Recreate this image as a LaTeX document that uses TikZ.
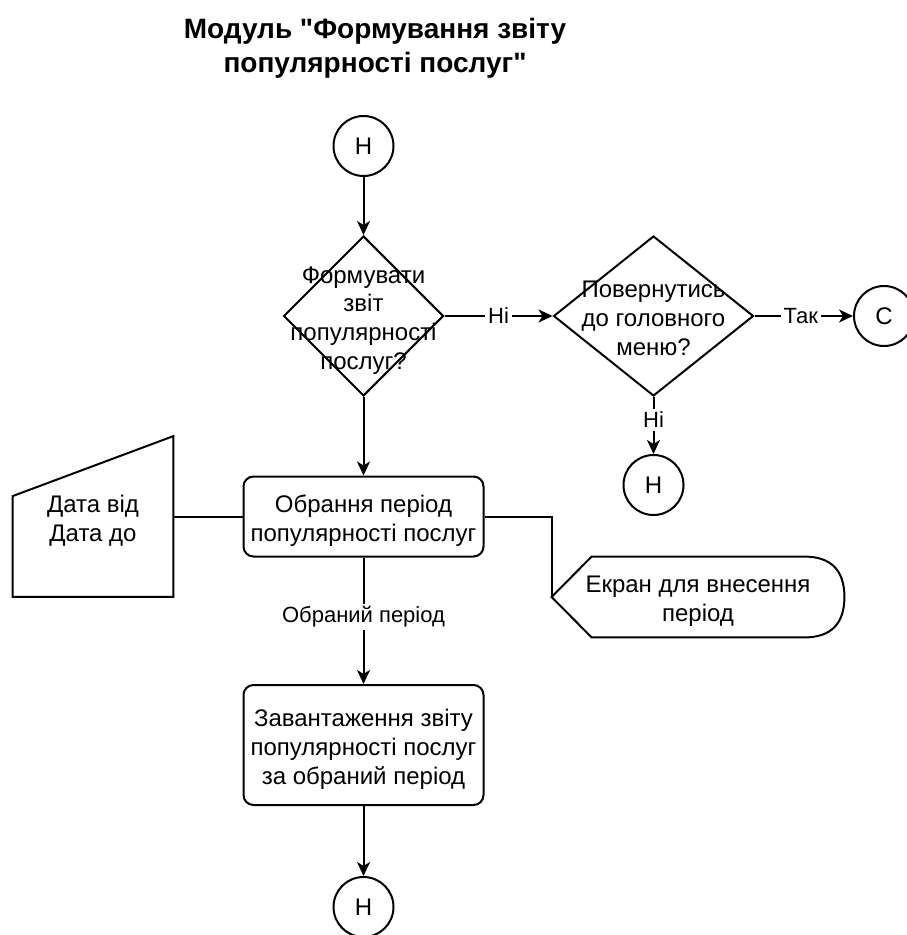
\documentclass[tikz,border=0pt]{standalone}
\usepackage{fontspec}
% a family without TeX ligatures keeps the straight double quote
\newfontfamily\flowfont{Liberation Sans}
\usetikzlibrary{shapes.geometric,arrows.meta,calc}

\begin{document}
\begin{tikzpicture}[x=0.5pt,y=-0.5pt,
  every node/.style={font=\flowfont\fontsize{12pt}{14.4pt}\selectfont, align=center, inner sep=0pt},
  every label/.style={yshift=-2.2pt},
  line/.style={line width=1pt, draw=black},
  flow/.style={line, -{Stealth[length=7pt,width=6.5pt,inset=2pt]}},
  term/.style={circle, draw, line width=1pt, minimum size=30pt},
  proc/.style={rectangle, rounded corners=5pt, draw, line width=1pt, minimum width=120pt},
  decision/.style={diamond, draw, line width=1pt, inner sep=0pt},
  ghost/.style={rectangle, draw=none, inner sep=0pt},
  elabel/.style={font=\flowfont\fontsize{11pt}{13.2pt}\selectfont, fill=white, inner sep=1.5pt},
  titlefont/.style={font=\flowfont\fontsize{14pt}{16.8pt}\selectfont\bfseries},
]
\useasboundingbox (0,0) rectangle (906,935);

% heading
\node[titlefont] (title) at (375,48) {Модуль "Формування звіту\\популярності послуг"};

% start and decisions
\node[term] (h1) at (363.5,146) {Н};
\node[decision, minimum width=80pt, minimum height=80pt,
      label={center:Формувати\\звіт\\популярності\\послуг?}] (d1) at (363.5,316) {};
\node[decision, minimum width=100pt, minimum height=80pt,
      label={[yshift=1pt]center:Повернутись\\до головного\\меню?}] (d2) at (653.5,316) {};
\node[term] (c1) at (884,316) {С};
\node[term] (h2) at (653.5,485) {Н};

% period selection
\node[proc, minimum height=40pt,
      label={center:Обрання період\\популярності послуг}] (box1) at (363.5,516.5) {};
\node[ghost, minimum width=80pt, minimum height=80pt,
      label={center:Дата від\\Дата до}] (inp) at (93,516.5) {};
\node[ghost, minimum width=146pt, minimum height=40pt,
      label={center:Екран для внесення\\період}] (disp) at (698,597) {};

% manual input outline
\draw[line] (inp.south west) -- ([yshift=-30pt]inp.north west) -- (inp.north east)
  -- (inp.south east) -- cycle;
% display outline, rounded right end
\draw[line] (disp.west) -- ([xshift=20pt]disp.north west) -- ([xshift=-20pt]disp.north east)
  .. controls ([xshift=-6.667pt]disp.north east) and ([yshift=13.333pt]disp.east) .. (disp.east)
  .. controls ([yshift=-13.333pt]disp.east) and ([xshift=-6.667pt]disp.south east) .. ([xshift=-20pt]disp.south east)
  -- ([xshift=20pt]disp.south west) -- cycle;

% report loading and end
\node[proc, minimum height=60pt,
      label={center:Завантаження звіту\\популярності послуг\\за обраний період}] (box2) at (363.5,745) {};
\node[term] (h3) at (363.5,907) {Н};

% connectors
\draw[flow] (h1) -- (d1);
\draw[flow] (d1.east) -- node[elabel] {Ні} (d2.west);
\draw[flow] (d2.east) -- node[elabel, pos=0.47] {Так} (c1.west);
\draw[flow] (d2.south) -- node[elabel, pos=0.4] {Ні} (h2.north);
\draw[flow] (d1.south) -- (box1.north);
\draw[line] (inp.east) -- (box1.west);
\draw[line] (box1.east) -| (disp.west);
\draw[flow] (box1.south) -- node[elabel, pos=0.47] {Обраний період} (box2.north);
\draw[flow] (box2.south) -- (h3.north);
\end{tikzpicture}
\end{document}
